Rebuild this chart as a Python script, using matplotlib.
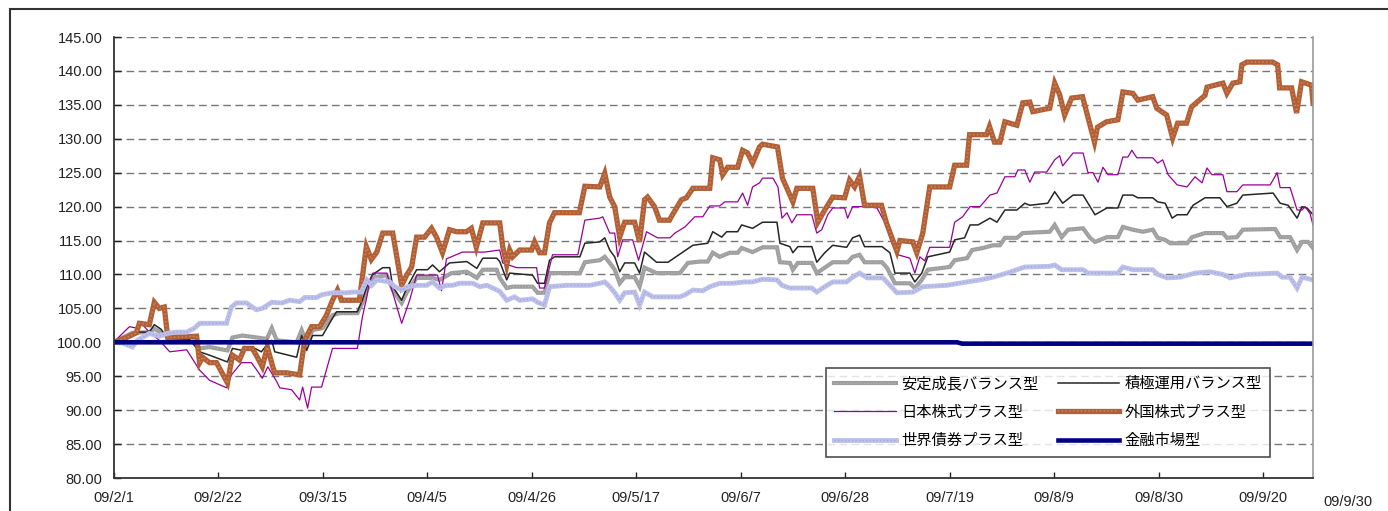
import matplotlib
matplotlib.use("Agg")
import matplotlib.pyplot as plt
from matplotlib.patches import Rectangle

plt.rcParams['font.family'] = ['Liberation Sans', 'Noto Sans CJK JP']

# ---- axis data ----
tick_days = [0, 21, 42, 63, 84, 105, 126, 147, 168, 189, 210, 231]
tick_labels = ['09/2/1', '09/2/22', '09/3/15', '09/4/5', '09/4/26', '09/5/17',
               '09/6/7', '09/6/28', '09/7/19', '09/8/9', '09/8/30', '09/9/20']
end_day = 241
end_label = '09/9/30'
y_ticks = [80, 85, 90, 95, 100, 105, 110, 115, 120, 125, 130, 135, 140, 145]

names = ['安定成長バランス型', '積極運用バランス型', '日本株式プラス型',
         '外国株式プラス型', '世界債券プラス型', '金融市場型']

# ---- series (days since 2009/2/1, index value) ----
stable_days = [0, 3.8, 7.2, 8.2, 10.7, 15.3, 17.3, 19.3, 22.9, 23.9, 25.9, 28.9, 30.8, 31.8, 32.8, 36.8,
               37.8, 38.8, 40.0, 42.0, 44.0, 45.4, 49.0, 50.0, 51.1, 52.5, 54.9, 56.1, 57.9, 58.9, 60.9,
               64.1, 65.5, 67.9, 71.0, 73.0, 74.2, 77.0, 77.6, 79.0, 80.2, 84.2, 85.2, 86.6, 87.6, 93.7,
               94.7, 97.7, 98.7, 99.7, 100.7, 101.7, 102.7, 104.7, 105.7, 106.7, 109.1, 113.8, 115.4,
               117.8, 119.4, 120.4, 121.8, 123.8, 125.4, 126.2, 128.4, 130.4, 133.3, 133.9, 135.9, 136.5,
               137.5, 140.3, 141.3, 142.9, 144.5, 147.5, 148.5, 149.9, 150.9, 154.4, 155.4, 157.0, 160.0,
               161.0, 162.4, 163.6, 168.0, 169.0, 171.5, 172.5, 174.7, 176.7, 178.1, 179.1, 181.5, 182.7,
               188.1, 189.1, 190.5, 191.8, 194.8, 196.2, 197.2, 199.6, 201.8, 202.8, 204.8, 206.8, 208.8,
               209.8, 211.3, 212.3, 215.7, 216.7, 219.3, 222.9, 223.7, 225.7, 226.9, 233.4, 234.4, 236.4,
               237.8, 238.8, 240.0, 241.0]
stable_vals = [100, 101.4, 101.5, 102, 100.9, 100.7, 99.1, 99.3, 98.8, 100.7, 101, 100.7, 100.5, 102.1, 100.3, 100,
               101.8, 99.9, 101.8, 102.1, 104, 104.3, 104.3, 105.8, 108, 109.6, 109.9, 107.7, 105.8, 107.3, 109.5,
               109.5, 109.2, 110.2, 110.4, 109.5, 110.7, 110.7, 109.5, 108, 108.2, 108.2, 107.3, 107.3, 110.2, 110.2,
               111.8, 112.1, 112.6, 111.7, 110.7, 108.7, 109.6, 109.6, 108.2, 111, 110.2, 110.2, 111.7,
               111.9, 111.9, 113.2, 112.6, 113.2, 113.2, 113.9, 113.3, 114, 114, 111.8, 111.7, 110.7,
               111.7, 111.7, 110.2, 111, 111.8, 111.8, 112.6, 112.9, 111.8, 111.8, 111, 108.7, 108.7,
               108, 109.2, 110.7, 111.1, 112.1, 112.4, 113.6, 113.9, 114.3, 114.3, 115.4, 115.4, 116.1,
               116.3, 117.3, 115.5, 116.6, 116.8, 115.4, 114.8, 115.5, 115.5, 117, 116.6, 116.3, 116.6,
               115.4, 115.1, 114.6, 114.6, 115.5, 116.1, 116.1, 115.4, 115.5, 116.6, 116.7, 115.5, 115.5,
               113.6, 114.8, 114.8, 113.9]

active_days = [0, 2.6, 5.2, 7.2, 8.2, 9.6, 10.9, 15.3, 17.3, 19.3, 22.9, 23.9, 25.9, 27.9, 29.7, 30.8, 31.8,
               32.4, 36.8, 37.8, 38.8, 40.0, 42.0, 43.4, 44.8, 49.0, 50.0, 50.9, 52.1, 54.1, 55.5, 56.1, 57.9,
               58.9, 60.9, 63.1, 64.1, 65.5, 67.5, 71.0, 73.0, 74.2, 77.0, 77.6, 79.0, 79.6, 84.2, 85.2, 86.6,
               87.6, 88.6, 93.7, 94.7, 97.7, 98.7, 99.7, 100.7, 101.7, 102.7, 104.7, 105.7, 106.7, 109.1, 111.4,
               114.2, 116.4, 119.4, 120.4, 122.2, 123.2, 125.4, 126.2, 128.4, 130.4, 133.3, 133.9, 135.9, 136.5,
               137.5, 140.3, 141.3, 142.9, 144.5, 147.3, 148.5, 149.9, 150.9, 154.4, 156.0, 157.0, 160.0, 161.0,
               162.4, 163.6, 168.0, 169.0, 171.0, 172.1, 173.7, 176.1, 177.5, 179.1, 181.5, 183.1, 184.1, 187.7,
               189.1, 190.7, 192.8, 194.8, 197.2, 199.6, 201.8, 202.8, 204.8, 205.8, 208.8, 209.8, 211.3, 212.7,
               213.7, 215.7, 216.9, 219.3, 222.3, 223.7, 225.7, 226.9, 233.0, 234.4, 236.0, 237.8, 238.8, 239.8,
               241.0]
active_vals = [100, 100.7, 101.5, 101.5, 102.6, 101.9, 100.4, 100.4, 98.6, 98.1, 97.1, 99.1, 98.8, 99.3, 98.6, 99.6, 100.3,
               98.6, 97.8, 101, 98.8, 101, 101, 102.8, 104.5, 104.5, 106.2, 108.2, 110, 111, 111, 108.2, 106.2,
               108, 110.7, 110.7, 111.4, 110.4, 111.7, 111.9, 110.9, 112.4, 112.4, 111.9, 109.2, 110.2, 109.9, 108.7, 108.7,
               112.1, 112.6, 112.6, 114.6, 114.8, 115.4, 113.6, 112.6, 110.4, 111.7, 111.7, 110.2, 113.3, 111.8, 111.8,
               113.2, 114.3, 114.6, 116.3, 115.5, 116.3, 116.3, 117.3, 116.8, 117.7, 117.7, 114.6, 114.1, 113.2,
               114.1, 114.1, 111.8, 113.2, 114.3, 114, 115.4, 115.8, 114.1, 114.1, 113.2, 110.2, 110.2, 108.9,
               110.2, 112.6, 113.3, 115.1, 115.4, 117.3, 117.3, 118.3, 117.7, 119.5, 119.5, 120.5, 120.2, 120.5,
               122.2, 120.5, 121.7, 121.7, 118.8, 119.8, 119.8, 121.7, 121.7, 121.3, 121.3, 120.7, 120.5, 118.3,
               118.8, 118.8, 120.2, 121.3, 121.3, 120, 120.5, 121.7, 122, 120.5, 120.2, 118.3, 120, 119.8,
               118.8]

japan_days = [0, 3.2, 4.6, 5.6, 7.2, 9.2, 11.3, 14.7, 17.3, 19.3, 22.7, 23.7, 25.7, 27.7, 28.7, 29.9, 31.0, 32.8,
              33.4, 35.8, 37.4, 38.0, 39.0, 39.8, 41.8, 44.0, 49.0, 50.0, 50.9, 51.5, 52.1, 54.9, 56.1, 57.9, 59.5,
              60.9, 65.1, 65.9, 66.9, 70.1, 74.6, 77.6, 78.2, 81.0, 85.0, 85.6, 86.6, 88.2, 93.3, 94.7, 97.7, 98.3,
              99.7, 100.7, 101.3, 102.3, 104.3, 105.5, 107.1, 109.3, 111.8, 112.8, 114.8, 116.8, 118.4, 119.8, 121.8,
              122.8, 125.4, 126.4, 127.4, 128.4, 129.8, 130.4, 132.5, 133.5, 134.3, 135.3, 136.3, 137.3, 140.3,
              141.3, 142.3, 143.5, 144.5, 146.9, 147.5, 148.5, 150.9, 153.4, 155.0, 156.4, 157.6, 160.0, 161.0,
              162.0, 163.0, 164.0, 168.0, 169.0, 170.6, 172.1, 174.1, 176.1, 177.5, 179.1, 181.1, 181.7, 183.1,
              184.1, 185.1, 187.5, 189.1, 190.1, 190.7, 192.8, 194.8, 195.8, 196.8, 197.8, 198.8, 199.8, 201.8,
              202.8, 203.8, 204.6, 205.6, 208.8, 209.8, 210.8, 211.9, 213.7, 215.7, 217.3, 218.7, 219.7, 220.7,
              222.9, 223.7, 225.7, 226.9, 232.4, 233.8, 234.4, 236.4, 237.8, 238.8, 239.4, 240.4, 241.0]
japan_vals = [100, 102.3, 102.1, 102.8, 101.5, 100.3, 98.6, 98.9, 95.9, 94.4, 93.3, 95.2, 97, 97, 96, 94.7, 96.4, 94.2,
              93.3, 93, 91.5, 93.4, 90.3, 93.4, 93.4, 99.1, 99.1, 103.7, 106.7, 109.2, 110.2, 110.2, 107.3, 102.8, 106.2,
              109.9, 109.9, 107.6, 112.3, 113.3, 113.3, 113.6, 111.7, 111, 111, 108, 108, 112.9, 112.9, 118, 118.3, 118.5,
              116.1, 116.1, 112.6, 115.1, 115.1, 112.1, 116.3, 115.4, 115.4, 116.1, 117, 118.5, 118.5, 120.1, 120.1,
              120.7, 120.7, 122, 120.2, 122.9, 123.5, 124.2, 124.2, 122.9, 118.3, 119.1, 117.6, 118.8, 118.8,
              116.1, 116.6, 118.8, 119.8, 119.8, 118.3, 120, 120, 119.8, 117.6, 114.6, 112.9, 112.4, 110.2,
              112.6, 112, 114, 114, 117.7, 118.5, 120, 120, 121.7, 122, 124.4, 124.4, 125.4, 125.4,
              123.6, 125.1, 125.1, 126.9, 127.5, 126, 127.9, 127.9, 125, 125, 123.6, 125.8, 124.7, 124.7,
              127.3, 127.3, 128.3, 127.2, 127.2, 126.4, 126.9, 124.7, 123.2, 122.9, 124.4, 123.5, 125.7, 124.7,
              124.7, 122.2, 122.2, 123.2, 123.2, 125, 122.8, 122.8, 119.5, 119.5, 120, 119, 117.3]

foreign_days = [0, 2.6, 4.6, 5.2, 7.2, 8.2, 9.2, 10.2, 10.9, 16.7, 17.3, 17.9, 19.3, 20.7, 22.9, 23.9, 25.3, 26.3,
                27.9, 28.9, 29.9, 30.9, 32.0, 32.4, 34.8, 37.4, 38.4, 39.8, 41.4, 42.8, 44.0, 45.0, 45.8, 49.4,
                50.8, 51.8, 52.9, 54.1, 56.1, 57.9, 58.9, 59.9, 60.9, 62.5, 63.9, 64.9, 66.1, 67.5, 68.9, 70.9,
                71.9, 72.9, 74.2, 77.6, 78.2, 79.0, 79.6, 80.2, 81.6, 84.0, 84.6, 85.6, 86.6, 87.6, 88.6, 93.6,
                94.7, 97.7, 98.7, 99.7, 100.7, 101.7, 102.7, 104.7, 105.7, 106.7, 107.3, 108.7, 109.7, 111.7,
                112.3, 114.1, 115.1, 116.4, 119.8, 120.4, 121.8, 122.4, 123.4, 125.4, 126.4, 127.4, 128.4, 129.8,
                130.4, 133.4, 134.4, 136.5, 137.3, 140.5, 141.5, 142.9, 144.5, 146.9, 147.9, 148.9, 149.9, 150.9,
                154.3, 155.3, 157.4, 158.0, 160.6, 161.4, 162.6, 164.0, 168.0, 169.0, 171.4, 172.0, 175.4, 176.0,
                177.0, 178.1, 179.1, 181.5, 182.7, 184.1, 184.7, 188.1, 189.1, 190.1, 191.1, 192.5, 194.7, 197.1,
                197.7, 199.5, 201.8, 202.8, 204.8, 205.8, 208.8, 209.6, 211.6, 212.8, 213.8, 215.6, 216.6, 219.3,
                219.7, 222.9, 223.7, 224.9, 226.3, 226.7, 227.7, 232.9, 233.9, 234.3, 236.7, 237.7, 238.7, 240.7,
                241.0]
foreign_vals = [100, 100.7, 101.4, 102.8, 102.6, 105.9, 105, 105.2, 100.7, 100.9, 97, 97.8, 97, 97, 94, 98.1, 97.4, 99.1,
                99.1, 97.8, 96.4, 99.3, 96.4, 95.5, 95.5, 95.2, 100.3, 102.3, 102.3, 104, 106.2, 107.7, 106.2, 106.2,
                114.1, 112.2, 113.3, 116.1, 116.1, 108.4, 109.9, 111.1, 115.5, 115.5, 116.8, 115.5, 113.2, 116.6, 116.3, 116.3,
                116.8, 114, 117.6, 117.6, 114.1, 111.4, 113.6, 112.6, 113.6, 113.6, 114.8, 113.2, 113.2, 117.6, 119.1, 119.1,
                123, 122.9, 124.9, 121.4, 120, 115.5, 117.7, 117.7, 114.8, 121, 121.4, 120, 118, 118,
                118.8, 121, 121.3, 122.7, 122.7, 127.2, 126.9, 124.7, 125.8, 125.8, 128.3, 127.9, 126.4, 128.8,
                129.2, 128.8, 124.2, 120.7, 122.7, 122.7, 117.7, 119.5, 121.4, 121.3, 123.9, 122.9, 124.5, 120.2,
                120.2, 117.6, 113.4, 115, 114.8, 113.2, 116.1, 122.9, 122.9, 126.1, 126.1, 130.6, 130.6, 131.8,
                129.5, 129.5, 132.5, 132, 135.3, 135.4, 134, 134.5, 138.2, 136.5, 133.5, 136, 136.2, 129.5,
                131.7, 132.5, 132.8, 136.9, 136.7, 135.7, 136.2, 134.5, 133.5, 130.1, 132.3, 132.3, 134.7, 136.4,
                137.6, 138.2, 136.7, 138.2, 138.4, 140.9, 141.3, 141.3, 140.9, 137.5, 137.5, 133.8, 138.4, 137.9,
                135.3]

bond_days = [0, 1.8, 3.8, 4.8, 7.2, 9.2, 10.7, 12.7, 14.7, 16.3, 17.3, 22.7, 23.7, 24.7, 26.7, 28.7, 29.9, 31.8,
             33.8, 35.4, 37.4, 38.4, 40.8, 41.8, 44.0, 46.8, 48.0, 49.8, 50.9, 51.9, 52.9, 55.5, 56.5, 57.9, 59.1,
             60.9, 62.9, 64.1, 65.5, 66.9, 68.1, 69.5, 72.2, 73.6, 75.0, 76.2, 77.6, 79.0, 80.6, 81.6, 84.2, 85.2,
             86.6, 87.6, 91.1, 95.7, 97.7, 98.7, 99.7, 100.7, 101.7, 102.7, 104.7, 105.7, 106.7, 108.3, 113.8,
             114.8, 116.4, 118.4, 119.8, 121.8, 124.4, 126.8, 128.4, 130.4, 133.3, 134.3, 135.9, 140.3, 141.3,
             142.9, 144.5, 147.3, 148.5, 149.9, 151.4, 154.6, 156.0, 157.4, 160.6, 162.6, 167.4, 171.5, 174.1,
             176.7, 179.5, 181.5, 183.1, 188.1, 189.1, 190.5, 194.8, 195.8, 201.8, 202.8, 204.8, 208.8, 209.8,
             211.7, 214.3, 217.3, 220.3, 222.9, 224.3, 227.7, 233.8, 234.8, 236.4, 237.8, 238.8, 241.0]
bond_vals = [100, 99.9, 99.3, 100.3, 101.3, 100.9, 101.3, 101.5, 101.5, 102.1, 102.8, 102.8, 105.2, 105.8, 105.8, 104.8, 105, 105.9,
             105.8, 106.2, 106, 106.6, 106.6, 107, 107.3, 107.3, 107.4, 107.4, 109.2, 108.4, 109.2, 108.9, 108.2, 107.7, 108.2,
             108.4, 108.4, 108.9, 108, 108.4, 108.4, 108.7, 108.7, 108.2, 108.4, 108, 107.5, 106.2, 106.7, 106.2, 106.4, 105.9,
             105.5, 108.2, 108.4, 108.4, 108.7, 108.9, 108.2, 107.3, 106.2, 107.3, 107.4, 105.5, 107.4, 106.7, 106.7,
             107, 107.7, 107.6, 108.2, 108.7, 108.7, 108.9, 108.9, 109.3, 109.2, 108.4, 108, 108, 107.4,
             108.2, 108.9, 108.9, 109.6, 110.2, 109.5, 109.5, 108.4, 107.3, 107.4, 108.2, 108.4, 108.9, 109.2,
             109.6, 110.2, 110.7, 111.1, 111.2, 111.4, 110.7, 110.7, 110.2, 110.2, 111.1, 110.7, 110.7, 110,
             109.5, 109.6, 110.2, 110.4, 110, 109.5, 110, 110.2, 109.6, 109.6, 108, 109.6, 109.2]

mmf_days = [0, 169.5, 170.5, 241]
mmf_vals = [100.0, 100.0, 99.8, 99.8]

# ---- figure ----
W, H = 1388, 511
fig = plt.figure(figsize=(W / 100, H / 100), dpi=100)
fig.patch.set_facecolor('white')
# outer chart-area frame (cropped at right/bottom)
fig.add_artist(Rectangle((10 / W, -0.2), 1.5, 1.2 - 8.5 / H, transform=fig.transFigure,
                         fill=False, edgecolor='#333333', linewidth=1.5))

ax = fig.add_axes([113.5 / W, 1 - 478 / H, (1313 - 113.5) / W, (478 - 37) / H])


def textured(days, vals, base, dots, lw, label):
    b, = ax.plot(days, vals, color=base, lw=lw, solid_joinstyle='miter')
    d, = ax.plot(days, vals, color=dots, lw=lw * 0.3, linestyle=(0, (0.8, 1.6)),
                 dash_capstyle='butt')
    return (b, d), label


handles = []
handles.append(textured(stable_days, stable_vals, '#9e9e9e', '#b8b8b8', 3.0, names[0]))
l1, = ax.plot(active_days, active_vals, color='#262626', lw=1.1)
handles.append((l1, names[1]))
l2, = ax.plot(japan_days, japan_vals, color='#990099', lw=0.9)
handles.append((l2, names[2]))
handles.append(textured(foreign_days, foreign_vals, '#b35f36', '#cf8a5f', 3.8, names[3]))
handles.append(textured(bond_days, bond_vals, '#bcc0ea', '#a0a5da', 3.5, names[4]))
l5, = ax.plot(mmf_days, mmf_vals, color='#000080', lw=3.3)
handles.append((l5, names[5]))

ax.set_xlim(0, end_day)
ax.set_ylim(80, 145)
ax.set_yticks(y_ticks)
ax.set_yticklabels(['%.2f' % v for v in y_ticks])
ax.set_xticks(tick_days)
ax.set_xticklabels(tick_labels)
ax.tick_params(axis='both', labelsize=10.5, colors='#222222', direction='in')
ax.tick_params(axis='y', length=5, pad=8, width=1)
ax.tick_params(axis='x', length=4, pad=9, width=1)

for g in y_ticks[1:]:
    ax.axhline(g, color='#777777', lw=1.0, linestyle=(0, (5.5, 3.2)), zorder=0.5)

ax.spines['top'].set_visible(False)
ax.spines['left'].set_color('#333333')
ax.spines['bottom'].set_color('#333333')
ax.spines['left'].set_linewidth(1.3)
ax.spines['bottom'].set_linewidth(1.3)
ax.spines['right'].set_color('#999999')
ax.spines['right'].set_linewidth(1.2)

ax.text(248.0, 76.4, end_label, fontsize=10.5, color='#222222', ha='center', va='center',
        transform=ax.transData, clip_on=False)

order = [0, 2, 4, 1, 3, 5]
leg = fig.legend([handles[i][0] for i in order], [handles[i][1] for i in order], ncol=2,
                 loc='upper left', bbox_to_anchor=(826 / W, 1 - 368 / H),
                 fontsize=11, frameon=True, fancybox=False, edgecolor='#222222',
                 handlelength=4.0, handletextpad=0.35, columnspacing=1.3,
                 labelspacing=0.95, borderpad=0.55, borderaxespad=0)
leg.get_frame().set_linewidth(1.2)

fig.savefig('out.png', dpi=100, facecolor='white')
